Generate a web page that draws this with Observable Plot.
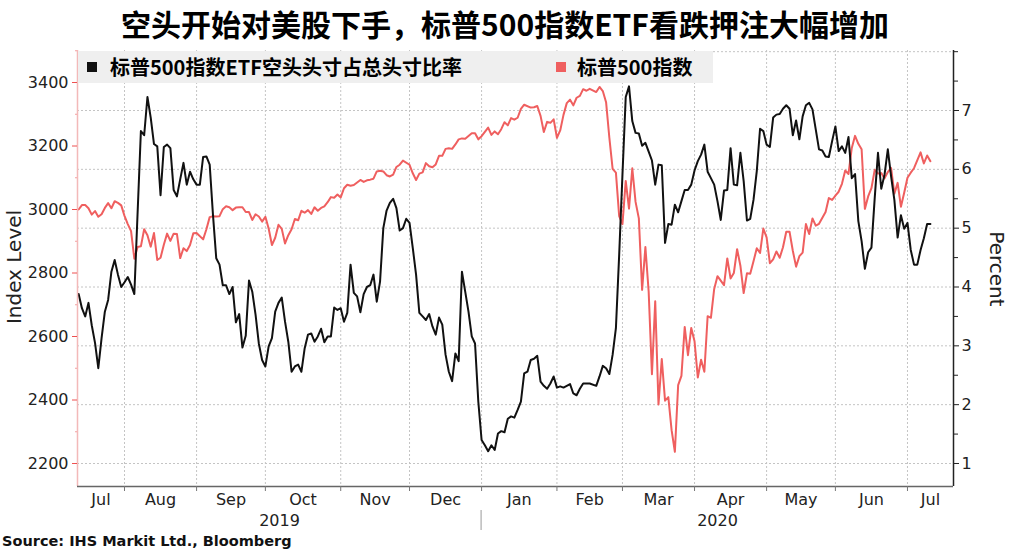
<!DOCTYPE html>
<html>
<head>
<meta charset="utf-8">
<script src="https://cdn.jsdelivr.net/npm/d3@7"></script>
<script src="https://cdn.jsdelivr.net/npm/@observablehq/plot@0.6"></script>
<style>
  html, body { margin: 0; padding: 0; background: #fff; }
  #wrap { position: relative; width: 1010px; height: 549px; overflow: hidden; background: #fff; }
  #title { height: 46px; line-height: 46px; text-align: center; font-family: "Noto Sans CJK SC", sans-serif; font-weight: 700; font-size: 30px; color: #000; white-space: nowrap; }
  #chart svg { display: block; }
  #source { position: absolute; left: 2px; top: 534px; font-family: "DejaVu Sans", Verdana, sans-serif; font-weight: bold; font-size: 14.5px; line-height: 15px; color: #111; white-space: nowrap; }
  #legend { position: absolute; left: 78px; top: 51px; width: 635px; height: 32px; background: #efefef; font-family: "Noto Sans CJK SC", sans-serif; font-weight: 700; font-size: 20px; line-height: 32px; color: #000; white-space: nowrap; }
  .sw { position: absolute; top: 11px; width: 10px; height: 10px; }
  .lt { position: absolute; top: 0; }
  .ytitle { position: absolute; font-family: "DejaVu Sans", Verdana, sans-serif; font-size: 20px; color: #222; white-space: nowrap; transform: translate(-50%, -50%) rotate(-90deg); }
</style>
</head>
<body>
<div id="wrap">
  <div id="title">空头开始对美股下手，标普500指数ETF看跌押注大幅增加</div>
  <div id="chart"></div>
  <div id="legend"></div>
  <div class="ytitle" id="ylabL" style="left:14px; top:267px;">Index Level</div>
  <div class="ytitle" id="ylabR" style="left:997px; top:269px; transform: translate(-50%, -50%) rotate(90deg);">Percent</div>
  <div id="source">Source: IHS Markit Ltd., Bloomberg</div>
</div>
<script>
// ---- Data ----
const seriesNames = ["标普500指数ETF空头头寸占总头寸比率", "标普500指数"];
const monthNames = ["Jul","Aug","Sep","Oct","Nov","Dec","Jan","Feb","Mar","Apr","May","Jun","Jul"];
const yearNames = ["2019", "2020"];
const indexTicks = [2200, 2400, 2600, 2800, 3000, 3200, 3400];
const percentTicks = [1, 2, 3, 4, 5, 6, 7];

// S&P 500 index level (left axis)
const spx = [
["2019-07-11",3000],["2019-07-12",3014],["2019-07-15",3014],["2019-07-16",3004],["2019-07-17",2984],["2019-07-18",2995],["2019-07-19",2977],["2019-07-22",2985],["2019-07-23",3005],["2019-07-24",3020],["2019-07-25",3004],["2019-07-26",3026],["2019-07-29",3021],["2019-07-30",3013],["2019-07-31",2980],
["2019-08-01",2954],["2019-08-02",2932],["2019-08-05",2845],["2019-08-06",2882],["2019-08-07",2884],["2019-08-08",2938],["2019-08-09",2919],["2019-08-12",2883],["2019-08-13",2926],["2019-08-14",2841],["2019-08-15",2848],["2019-08-16",2889],["2019-08-19",2924],["2019-08-20",2901],["2019-08-21",2924],["2019-08-22",2923],["2019-08-23",2847],["2019-08-26",2878],["2019-08-27",2869],["2019-08-28",2888],["2019-08-29",2925],["2019-08-30",2926],
["2019-09-03",2906],["2019-09-04",2938],["2019-09-05",2976],["2019-09-06",2979],["2019-09-09",2978],["2019-09-10",2979],["2019-09-11",3001],["2019-09-12",3010],["2019-09-13",3007],["2019-09-16",2998],["2019-09-17",3006],["2019-09-18",3007],["2019-09-19",3007],["2019-09-20",2992],["2019-09-23",2992],["2019-09-24",2967],["2019-09-25",2985],["2019-09-26",2978],["2019-09-27",2962],["2019-09-30",2977],
["2019-10-01",2940],["2019-10-02",2888],["2019-10-03",2911],["2019-10-04",2952],["2019-10-07",2939],["2019-10-08",2893],["2019-10-09",2919],["2019-10-10",2938],["2019-10-11",2970],["2019-10-14",2966],["2019-10-15",2996],["2019-10-16",2990],["2019-10-17",2998],["2019-10-18",2986],["2019-10-21",3007],["2019-10-22",2996],["2019-10-23",3005],["2019-10-24",3010],["2019-10-25",3023],["2019-10-28",3039],["2019-10-29",3037],["2019-10-30",3047],["2019-10-31",3038],
["2019-11-01",3067],["2019-11-04",3078],["2019-11-05",3075],["2019-11-06",3077],["2019-11-07",3085],["2019-11-08",3093],["2019-11-11",3087],["2019-11-12",3092],["2019-11-13",3094],["2019-11-14",3097],["2019-11-15",3120],["2019-11-18",3122],["2019-11-19",3120],["2019-11-20",3108],["2019-11-21",3104],["2019-11-22",3110],["2019-11-25",3134],["2019-11-26",3141],["2019-11-27",3154],["2019-11-29",3141],
["2019-12-02",3114],["2019-12-03",3093],["2019-12-04",3113],["2019-12-05",3117],["2019-12-06",3146],["2019-12-09",3136],["2019-12-10",3133],["2019-12-11",3142],["2019-12-12",3169],["2019-12-13",3169],["2019-12-16",3191],["2019-12-17",3193],["2019-12-18",3191],["2019-12-19",3205],["2019-12-20",3221],["2019-12-23",3224],["2019-12-24",3223],["2019-12-26",3240],["2019-12-27",3240],["2019-12-30",3221],["2019-12-31",3231],
["2020-01-02",3258],["2020-01-03",3235],["2020-01-06",3246],["2020-01-07",3237],["2020-01-08",3253],["2020-01-09",3275],["2020-01-10",3265],["2020-01-13",3288],["2020-01-14",3283],["2020-01-15",3289],["2020-01-16",3317],["2020-01-17",3330],["2020-01-21",3321],["2020-01-22",3322],["2020-01-23",3326],["2020-01-24",3295],["2020-01-27",3244],["2020-01-28",3276],["2020-01-29",3273],["2020-01-30",3284],["2020-01-31",3226],
["2020-02-03",3249],["2020-02-04",3298],["2020-02-05",3335],["2020-02-06",3346],["2020-02-07",3328],["2020-02-10",3352],["2020-02-11",3358],["2020-02-12",3379],["2020-02-13",3374],["2020-02-14",3380],["2020-02-18",3370],["2020-02-19",3386],["2020-02-20",3373],["2020-02-21",3338],["2020-02-24",3226],["2020-02-25",3128],["2020-02-26",3116],["2020-02-27",2979],["2020-02-28",2954],
["2020-03-02",3090],["2020-03-03",3003],["2020-03-04",3130],["2020-03-05",3024],["2020-03-06",2972],["2020-03-09",2747],["2020-03-10",2882],["2020-03-11",2741],["2020-03-12",2481],["2020-03-13",2711],["2020-03-16",2386],["2020-03-17",2529],["2020-03-18",2398],["2020-03-19",2409],["2020-03-20",2305],["2020-03-23",2237],["2020-03-24",2447],["2020-03-25",2476],["2020-03-26",2630],["2020-03-27",2541],["2020-03-30",2627],["2020-03-31",2585],
["2020-04-01",2471],["2020-04-02",2527],["2020-04-03",2489],["2020-04-06",2664],["2020-04-07",2659],["2020-04-08",2750],["2020-04-09",2790],["2020-04-13",2762],["2020-04-14",2846],["2020-04-15",2783],["2020-04-16",2800],["2020-04-17",2875],["2020-04-20",2823],["2020-04-21",2737],["2020-04-22",2799],["2020-04-23",2798],["2020-04-24",2837],["2020-04-27",2878],["2020-04-28",2863],["2020-04-29",2940],["2020-04-30",2912],
["2020-05-01",2831],["2020-05-04",2843],["2020-05-05",2868],["2020-05-06",2848],["2020-05-07",2881],["2020-05-08",2930],["2020-05-11",2930],["2020-05-12",2870],["2020-05-13",2820],["2020-05-14",2853],["2020-05-15",2864],["2020-05-18",2954],["2020-05-19",2923],["2020-05-20",2972],["2020-05-21",2949],["2020-05-22",2955],["2020-05-26",2992],["2020-05-27",3036],["2020-05-28",3030],["2020-05-29",3044],
["2020-06-01",3056],["2020-06-02",3081],["2020-06-03",3123],["2020-06-04",3112],["2020-06-05",3194],["2020-06-08",3232],["2020-06-09",3207],["2020-06-10",3190],["2020-06-11",3002],["2020-06-12",3041],["2020-06-15",3067],["2020-06-16",3125],["2020-06-17",3113],["2020-06-18",3115],["2020-06-19",3098],["2020-06-22",3118],["2020-06-23",3131],["2020-06-24",3050],["2020-06-25",3084],["2020-06-26",3009],["2020-06-29",3053],["2020-06-30",3100],
["2020-07-01",3116],["2020-07-02",3130],["2020-07-06",3180],["2020-07-07",3145],["2020-07-08",3170],["2020-07-09",3152]
];

// SPY short interest as % of shares outstanding (right axis)
const shortRatio = [
["2019-07-11",3.88],["2019-07-12",3.64],["2019-07-15",3.50],["2019-07-16",3.73],["2019-07-17",3.35],["2019-07-18",3.05],["2019-07-19",2.62],["2019-07-22",3.13],["2019-07-23",3.58],["2019-07-24",3.78],["2019-07-25",4.26],["2019-07-26",4.46],["2019-07-29",4.21],["2019-07-30",4.00],["2019-07-31",4.08],
["2019-08-01",4.17],["2019-08-02",4.04],["2019-08-05",3.88],["2019-08-07",6.65],["2019-08-08",6.58],["2019-08-09",7.23],["2019-08-12",6.88],["2019-08-13",6.43],["2019-08-14",6.39],["2019-08-15",5.56],["2019-08-16",6.38],["2019-08-19",6.42],["2019-08-20",6.36],["2019-08-21",5.65],["2019-08-22",5.54],["2019-08-23",5.83],["2019-08-26",6.11],["2019-08-27",5.74],["2019-08-28",5.96],["2019-08-29",5.83],["2019-08-30",5.74],
["2019-09-02",5.74],["2019-09-03",6.21],["2019-09-04",6.22],["2019-09-05",6.08],["2019-09-06",5.23],["2019-09-09",4.49],["2019-09-10",4.38],["2019-09-11",4.03],["2019-09-12",4.03],["2019-09-13",3.88],["2019-09-16",4.00],["2019-09-17",3.40],["2019-09-18",3.54],["2019-09-19",2.97],["2019-09-20",3.17],["2019-09-23",4.11],["2019-09-24",3.92],["2019-09-25",3.53],["2019-09-26",3.04],["2019-09-27",2.76],["2019-09-30",2.65],
["2019-10-01",2.99],["2019-10-02",3.13],["2019-10-03",3.58],["2019-10-04",3.73],["2019-10-07",3.82],["2019-10-08",3.41],["2019-10-09",3.07],["2019-10-10",2.56],["2019-10-11",2.65],["2019-10-14",2.68],["2019-10-15",2.56],["2019-10-16",2.96],["2019-10-17",3.19],["2019-10-18",3.21],["2019-10-21",3.07],["2019-10-22",3.16],["2019-10-23",3.29],["2019-10-24",3.06],["2019-10-25",3.16],["2019-10-28",3.16],["2019-10-29",3.65],["2019-10-30",3.61],["2019-10-31",3.64],
["2019-11-01",3.41],["2019-11-04",3.56],["2019-11-05",4.38],["2019-11-06",3.90],["2019-11-07",3.84],["2019-11-08",3.57],["2019-11-11",3.88],["2019-11-12",4.00],["2019-11-13",4.03],["2019-11-14",4.21],["2019-11-15",3.75],["2019-11-18",4.09],["2019-11-19",5.00],["2019-11-20",5.30],["2019-11-21",5.43],["2019-11-22",5.50],["2019-11-25",5.34],["2019-11-26",4.96],["2019-11-27",5.00],["2019-11-28",5.16],["2019-11-29",5.09],
["2019-12-02",4.66],["2019-12-03",4.21],["2019-12-04",3.56],["2019-12-05",3.50],["2019-12-06",3.44],["2019-12-09",3.54],["2019-12-10",3.33],["2019-12-11",3.19],["2019-12-12",3.48],["2019-12-13",3.36],["2019-12-16",2.85],["2019-12-17",2.56],["2019-12-18",2.40],["2019-12-19",2.87],["2019-12-20",2.74],["2019-12-23",4.26],["2019-12-24",3.92],["2019-12-25",3.58],["2019-12-26",3.16],["2019-12-27",3.04],["2019-12-30",2.05],["2019-12-31",1.40],
["2020-01-01",1.31],["2020-01-02",1.21],["2020-01-03",1.31],["2020-01-06",1.23],["2020-01-07",1.51],["2020-01-08",1.55],["2020-01-09",1.53],["2020-01-10",1.76],["2020-01-13",1.80],["2020-01-14",1.78],["2020-01-15",1.91],["2020-01-16",2.05],["2020-01-17",2.53],["2020-01-20",2.56],["2020-01-21",2.76],["2020-01-22",2.78],["2020-01-23",2.83],["2020-01-24",2.39],["2020-01-27",2.32],["2020-01-28",2.27],["2020-01-29",2.36],["2020-01-30",2.48],["2020-01-31",2.29],
["2020-02-03",2.31],["2020-02-04",2.29],["2020-02-06",2.35],["2020-02-07",2.19],["2020-02-10",2.16],["2020-02-11",2.27],["2020-02-12",2.36],["2020-02-13",2.36],["2020-02-14",2.36],["2020-02-18",2.32],["2020-02-19",2.48],["2020-02-20",2.66],["2020-02-21",2.62],["2020-02-24",2.52],["2020-02-25",2.85],["2020-02-26",3.30],["2020-02-27",4.55],["2020-02-28",5.91],
["2020-03-02",7.23],["2020-03-03",7.41],["2020-03-04",6.82],["2020-03-05",6.62],["2020-03-06",6.61],["2020-03-09",6.40],["2020-03-10",6.45],["2020-03-11",6.30],["2020-03-12",6.15],["2020-03-13",5.74],["2020-03-16",6.08],["2020-03-17",6.07],["2020-03-18",4.75],["2020-03-19",5.07],["2020-03-20",5.06],["2020-03-23",5.40],["2020-03-24",5.27],["2020-03-25",5.46],["2020-03-26",5.65],["2020-03-27",5.65],["2020-03-30",5.74],["2020-03-31",5.98],
["2020-04-01",6.14],["2020-04-02",6.25],["2020-04-03",6.42],["2020-04-06",5.96],["2020-04-07",5.85],["2020-04-08",5.74],["2020-04-09",5.46],["2020-04-10",5.14],["2020-04-13",5.64],["2020-04-14",5.65],["2020-04-15",6.36],["2020-04-16",5.74],["2020-04-17",5.73],["2020-04-20",6.28],["2020-04-21",5.80],["2020-04-22",5.13],["2020-04-23",5.16],["2020-04-24",5.48],["2020-04-27",5.97],["2020-04-28",6.69],["2020-04-29",6.65],["2020-04-30",6.42],
["2020-05-01",6.38],["2020-05-04",6.88],["2020-05-05",6.93],["2020-05-06",6.94],["2020-05-07",7.03],["2020-05-08",7.09],["2020-05-11",7.03],["2020-05-12",6.58],["2020-05-13",6.83],["2020-05-14",6.51],["2020-05-15",6.90],["2020-05-18",7.09],["2020-05-19",7.13],["2020-05-20",7.02],["2020-05-21",6.68],["2020-05-22",6.34],["2020-05-25",6.32],["2020-05-26",6.22],["2020-05-27",6.21],["2020-05-28",6.48],["2020-05-29",6.73],
["2020-06-01",6.31],["2020-06-02",6.39],["2020-06-03",6.28],["2020-06-04",6.55],["2020-06-05",5.85],["2020-06-08",5.92],["2020-06-09",5.12],["2020-06-10",4.78],["2020-06-11",4.31],["2020-06-12",4.59],["2020-06-15",4.67],["2020-06-16",5.51],["2020-06-17",6.28],["2020-06-18",5.67],["2020-06-19",5.91],["2020-06-22",6.34],["2020-06-23",5.88],["2020-06-24",5.48],["2020-06-25",4.84],["2020-06-26",5.22],["2020-06-29",4.99],["2020-06-30",5.09],
["2020-07-01",4.63],["2020-07-02",4.38],["2020-07-03",4.38],["2020-07-06",4.63],["2020-07-07",4.83],["2020-07-08",5.07],["2020-07-09",5.07]
];

// ---- Helpers ----
const BASE = Date.UTC(2019, 7, 1);
function wd(s) {
  const t = Date.parse(s + "T00:00:00Z");
  const d = new Date(BASE);
  let n = 0;
  if (t >= BASE) {
    while (d.getTime() < t) { d.setUTCDate(d.getUTCDate() + 1); const w = d.getUTCDay(); if (w !== 0 && w !== 6) n++; }
  } else {
    while (d.getTime() > t) { d.setUTCDate(d.getUTCDate() - 1); const w = d.getUTCDay(); if (w !== 0 && w !== 6) n--; }
  }
  return n;
}
const xPos = s => wd(s) + 1;

// month boundaries (first weekday of each month, Aug 2019 .. Jul 2020)
const boundaries = [];
for (let i = 0; i < 12; i++) {
  const d = new Date(Date.UTC(2019, 7 + i, 1));
  while (d.getUTCDay() === 0 || d.getUTCDay() === 6) d.setUTCDate(d.getUTCDate() + 1);
  boundaries.push(wd(d.toISOString().slice(0, 10)));
}
const xDomain = [-14.35, 253.05];
const edges = [xDomain[0], ...boundaries, xDomain[1]];
const monthLabels = monthNames.map((name, i) => ({name, x: (edges[i] + edges[i + 1]) / 2}));
const yearBoundary = boundaries[5];
const yearLabels = [
  {name: yearNames[0], x: (xDomain[0] + yearBoundary) / 2},
  {name: yearNames[1], x: (yearBoundary + xDomain[1]) / 2}
];

const idxDomain = [2127.6, 3500.8];
const pctDomain = [0.609, 8.02];
const toIdx = p => idxDomain[0] + (p - pctDomain[0]) * (idxDomain[1] - idxDomain[0]) / (pctDomain[1] - pctDomain[0]);
const fromIdx = v => pctDomain[0] + (v - idxDomain[0]) * (pctDomain[1] - pctDomain[0]) / (idxDomain[1] - idxDomain[0]);

const pctGrid = [1, 2, 3, 4, 5, 6, 7, 8];
const pctMinor = [1.5, 2.5, 3.5, 4.5, 5.5, 6.5, 7.5, 8];
const idxMinor = [2300, 2500, 2700, 2900, 3100, 3300, 3500];

const RED = "#ef5f5f";
const BLACK = "#111111";

const yearSep = (index, scales, values, dims) => {
  const ns = "http://www.w3.org/2000/svg";
  const g = document.createElementNS(ns, "g");
  const line = document.createElementNS(ns, "line");
  const x = scales.x(yearBoundary);
  const yb = dims.height - dims.marginBottom;
  line.setAttribute("x1", x); line.setAttribute("x2", x);
  line.setAttribute("y1", yb + 24); line.setAttribute("y2", yb + 44);
  line.setAttribute("stroke", "#999"); line.setAttribute("stroke-width", 1);
  g.appendChild(line);
  return g;
};

const chart = Plot.plot({
  width: 1010,
  height: 488,
  marginTop: 4,
  marginBottom: 48,
  marginLeft: 77,
  marginRight: 57,
  x: {type: "linear", domain: xDomain, axis: null},
  y: {domain: idxDomain, axis: null},
  style: {fontFamily: "DejaVu Sans, Verdana, sans-serif", fontSize: "16px", color: "#222", background: "transparent", overflow: "visible"},
  marks: [
    Plot.ruleY(pctGrid.map(toIdx), {stroke: "#c4c4c4", strokeDasharray: "2,2"}),
    Plot.ruleX(boundaries, {stroke: "#c4c4c4", strokeDasharray: "2,2"}),
    Plot.line(spx, {x: d => xPos(d[0]), y: d => d[1], stroke: RED, strokeWidth: 2}),
    Plot.line(shortRatio, {x: d => xPos(d[0]), y: d => toIdx(d[1]), stroke: BLACK, strokeWidth: 2}),
    Plot.ruleX([xDomain[0]], {stroke: "#f3b9b9", strokeWidth: 1.5}),
    Plot.ruleX([xDomain[1]], {stroke: "#222", strokeWidth: 1.5}),
    Plot.ruleY([idxDomain[0]], {stroke: "#666", strokeWidth: 1.5}),
    Plot.axisY(indexTicks, {anchor: "left", tickSize: 5, tickPadding: 4, stroke: "#ee5050", fill: "#222", label: null, tickFormat: d => String(d)}),
    Plot.axisY(idxMinor, {anchor: "left", tickSize: 2, stroke: "#f3a0a0", fill: "none", label: null, tickFormat: () => ""}),
    Plot.axisY(percentTicks.map(toIdx), {anchor: "right", tickSize: 5, tickPadding: 3, stroke: "#222", fill: "#222", label: null, tickFormat: d => String(Math.round(fromIdx(d)))}),
    Plot.axisY(pctMinor.map(toIdx), {anchor: "right", tickSize: 4, stroke: "#222", fill: "none", label: null, tickFormat: () => ""}),
    Plot.axisX(boundaries, {anchor: "bottom", tickSize: 5, stroke: "#777", fill: "none", label: null, tickFormat: () => ""}),
    Plot.text(monthLabels, {x: "x", text: "name", frameAnchor: "bottom", dy: 18, fill: "#222"}),
    Plot.text(yearLabels, {x: "x", text: "name", frameAnchor: "bottom", dy: 39, fill: "#222"}),
    yearSep
  ]
});
document.getElementById("chart").appendChild(chart);

// legend
const legend = document.getElementById("legend");
const items = [
  {name: seriesNames[0], color: BLACK, sw: 9, tx: 32},
  {name: seriesNames[1], color: RED, sw: 478, tx: 499}
];
for (const it of items) {
  const s = document.createElement("div");
  s.className = "sw"; s.style.left = it.sw + "px"; s.style.background = it.color;
  legend.appendChild(s);
  const t = document.createElement("div");
  t.className = "lt"; t.style.left = it.tx + "px"; t.textContent = it.name;
  legend.appendChild(t);
}
</script>
</body>
</html>
